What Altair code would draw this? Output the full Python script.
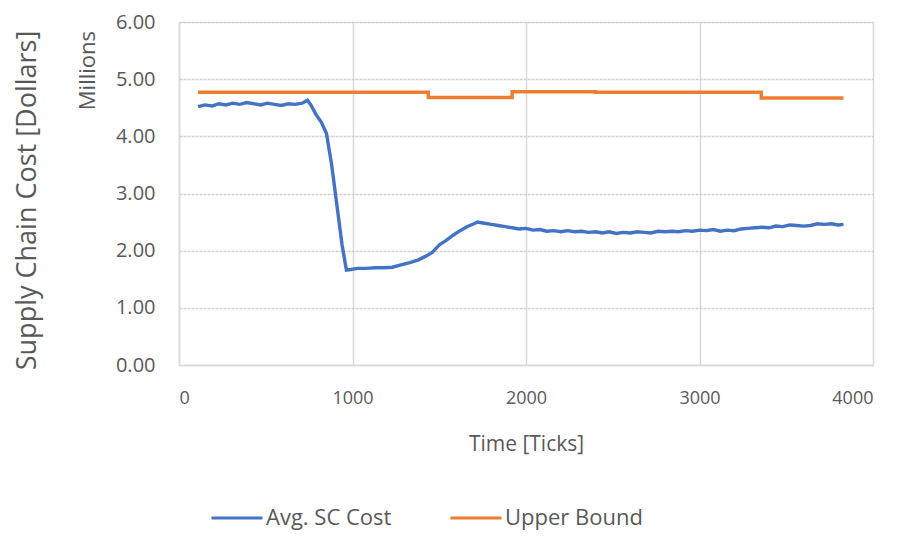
import altair as alt
import pandas as pd

# Avg. SC Cost (millions of dollars)
avg_ticks = [110, 150, 190, 230, 270, 310, 350, 390, 430, 470, 510, 550, 590, 630, 670, 710, 740,
             760, 790, 820, 850, 880, 910, 940, 965, 990, 1030, 1080, 1130, 1180, 1230, 1280, 1330,
             1380, 1420, 1460, 1500, 1540, 1580, 1620, 1660, 1700, 1720, 1760, 1800, 1840, 1880,
             1920, 1960, 2000, 2040, 2080, 2120, 2160, 2200, 2240, 2280, 2320, 2360, 2400, 2440,
             2480, 2520, 2560, 2600, 2640, 2680, 2720, 2760, 2800, 2840, 2880, 2920, 2960, 3000,
             3040, 3080, 3120, 3160, 3200, 3240, 3280, 3320, 3360, 3400, 3440, 3480, 3520, 3560,
             3600, 3640, 3680, 3720, 3760, 3800, 3830]
avg_cost = [4.52, 4.55, 4.53, 4.57, 4.55, 4.58, 4.56, 4.59, 4.57, 4.55, 4.58, 4.56, 4.54, 4.57,
            4.56, 4.58, 4.63, 4.55, 4.38, 4.25, 4.05, 3.50, 2.80, 2.10, 1.66, 1.67, 1.69, 1.69,
            1.70, 1.70, 1.71, 1.75, 1.79, 1.84, 1.90, 1.97, 2.10, 2.18, 2.27, 2.35, 2.42, 2.47,
            2.50, 2.48, 2.46, 2.44, 2.42, 2.40, 2.38, 2.39, 2.36, 2.37, 2.34, 2.35, 2.33, 2.35,
            2.33, 2.34, 2.32, 2.33, 2.31, 2.33, 2.30, 2.32, 2.31, 2.33, 2.32, 2.31, 2.34, 2.33,
            2.34, 2.33, 2.35, 2.34, 2.36, 2.35, 2.37, 2.34, 2.36, 2.35, 2.38, 2.39, 2.40, 2.41,
            2.40, 2.43, 2.42, 2.45, 2.44, 2.43, 2.44, 2.47, 2.46, 2.47, 2.45, 2.46]

# Upper Bound (step function)
ub_ticks = [110, 1437, 1920, 2400, 3356, 3830]
ub_cost = [4.77, 4.68, 4.78, 4.77, 4.67, 4.67]

series_names = ["Avg. SC Cost", "Upper Bound"]
series_colors = ["#4472C4", "#ED7D31"]

avg_df = pd.DataFrame({"tick": avg_ticks, "cost": avg_cost, "series": series_names[0]})
ub_df = pd.DataFrame({"tick": ub_ticks, "cost": ub_cost, "series": series_names[1]})

font = "Open Sans"
grey = "#595959"

color = alt.Color("series:N", scale=alt.Scale(domain=series_names, range=series_colors),
                  legend=alt.Legend(title=None, orient="none", legendX=31, legendY=469,
                                    direction="horizontal", symbolType="stroke",
                                    symbolSize=2600, symbolStrokeWidth=3,
                                    labelFontSize=22, labelFont=font, labelColor=grey,
                                    columnPadding=52, labelOffset=2, symbolOffset=0,
                                    padding=0))

x = alt.X("tick:Q", scale=alt.Scale(domain=[0, 4000], nice=False),
          axis=alt.Axis(values=[0, 1000, 2000, 3000, 4000], format="d", title="Time [Ticks]",
                        grid=True, gridColor="#d9d9d9", gridWidth=1.5,
                        domain=True, domainColor="#d9d9d9", domainWidth=1.5, ticks=False,
                        labelFontSize=18, labelFont=font, labelColor=grey, labelPadding=24,
                        titleFontSize=21, titleFont=font, titleColor=grey,
                        titleFontWeight="normal", titlePadding=26))
y = alt.Y("cost:Q", scale=alt.Scale(domain=[0, 6], nice=False),
          axis=alt.Axis(values=[0, 1, 2, 3, 4, 5, 6], format=".2f",
                        title="Supply Chain Cost [Dollars]",
                        grid=True, gridColor="#d0d0d0", gridWidth=1.5, gridDash=[3, 1],
                        domain=True, domainColor="#d9d9d9", domainWidth=1.5, ticks=False,
                        labelFontSize=20, labelFont=font, labelColor=grey, labelPadding=24,
                        titleFontSize=27, titleFont=font, titleColor=grey,
                        titleFontWeight="normal", titlePadding=74, titleY=178))

avg_line = alt.Chart(avg_df).mark_line(strokeWidth=3.4).encode(x=x, y=y, color=color)
ub_line = alt.Chart(ub_df).mark_line(strokeWidth=3.4, interpolate="step-after").encode(
    x=x, y=y, color=color)

millions = alt.Chart(pd.DataFrame({"t": ["Millions"], "v": [5.15]})).mark_text(
    angle=270, fontSize=22, font=font, color=grey, align="center", baseline="middle"
).encode(x=alt.value(-91), y=alt.Y("v:Q", scale=alt.Scale(domain=[0, 6], nice=False)),
         text="t:N")

chart = alt.layer(avg_line, ub_line, millions).properties(
    width=694, height=343,
    autosize=alt.AutoSizeParams(type="none"),
    padding={"left": 171, "top": 14, "right": 20, "bottom": 167},
).configure_view(stroke=None).configure(background="white")

chart.save("out.html", embed_options={"renderer": "svg", "actions": False})
